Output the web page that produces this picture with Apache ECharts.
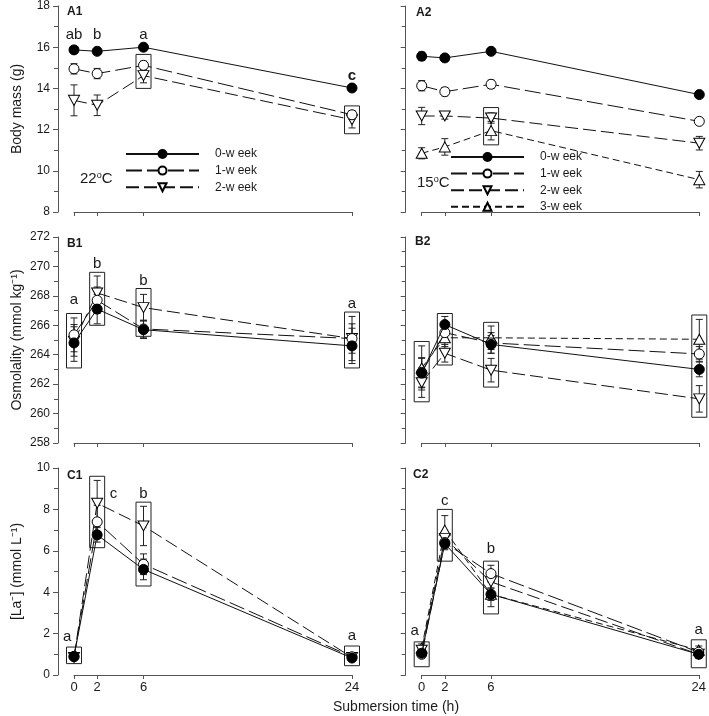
<!DOCTYPE html>
<html><head><meta charset="utf-8">
<script src="https://cdn.jsdelivr.net/npm/echarts@6/dist/echarts.min.js"></script>
<style>html,body{margin:0;padding:0;background:#fff}#c{width:709px;height:716px}</style>
</head><body><div id="c"></div>
<script>
// ---------- data ----------
const times = [0, 2, 6, 24];
const weekNames = ['0-w eek', '1-w eek', '2-w eek', '3-w eek'];

// A1: body mass, 22 °C
const a1_w0 = [15.87, 15.8, 16.0, 14.02];
const a1_w0_se = [0.15, 0.15, 0.12, 0.1];
const a1_w1 = [14.95, 14.72, 15.12, 12.72];
const a1_w1_se = [0.25, 0.25, 0.2, 0.2];
const a1_w2 = [13.42, 13.18, 14.62, 12.48];
const a1_w2_se = [0.75, 0.5, 0.35, 0.4];
const a1_boxT = [6, 24];
const a1_boxLo = [14.0, 11.8];
const a1_boxHi = [15.65, 13.15];
const a1_letT = [0, 2, 6, 24];
const a1_letY = [16.6, 16.6, 16.6, 14.6];
const a1_let = ['ab', 'b', 'a', 'c'];

// A2: body mass, 15 °C
const a2_w0 = [15.56, 15.48, 15.8, 13.7];
const a2_w0_se = [0.2, 0.15, 0.1, 0.12];
const a2_w1 = [14.13, 13.84, 14.2, 12.4];
const a2_w1_se = [0.25, 0.2, 0.2, 0.1];
const a2_w2 = [12.66, 12.66, 12.56, 11.34];
const a2_w2_se = [0.42, 0.15, 0.25, 0.33];
const a2_w3 = [10.85, 11.16, 11.95, 9.57];
const a2_w3_se = [0.27, 0.4, 0.45, 0.4];
const a2_boxT = [6];
const a2_boxLo = [11.26];
const a2_boxHi = [13.07];

// B1: osmolality, 22 °C
const b1_w0 = [264.8, 267.1, 265.7, 264.6];
const b1_w0_se = [1.25, 1.0, 0.6, 1.2];
const b1_w1 = [265.35, 267.7, 265.75, 265.1];
const b1_w1_se = [1.15, 0.9, 0.6, 1.5];
const b1_w2 = [264.9, 268.2, 267.2, 265.1];
const b1_w2_se = [1.0, 1.15, 0.9, 1.0];
const b1_boxT = [0, 2, 6, 24];
const b1_boxLo = [263.1, 266.0, 265.25, 263.1];
const b1_boxHi = [266.8, 269.6, 268.5, 266.9];
const b1_letT = [0, 2, 6, 24];
const b1_letY = [267.7, 270.2, 269.0, 267.45];
const b1_let = ['a', 'b', 'b', 'a'];

// B2: osmolality, 15 °C
const b2_w0 = [262.75, 266.05, 264.7, 263.0];
const b2_w0_se = [1.0, 0.55, 0.6, 0.5];
const b2_w1 = [262.8, 265.5, 264.8, 264.05];
const b2_w1_se = [1.0, 0.6, 0.7, 0.5];
const b2_w2 = [262.1, 264.1, 262.95, 261.0];
const b2_w2_se = [1.0, 0.6, 0.8, 0.9];
const b2_w3 = [263.1, 265.15, 265.15, 265.05];
const b2_w3_se = [1.5, 0.6, 0.8, 1.35];
const b2_boxT = [0, 2, 6, 24];
const b2_boxLo = [260.8, 263.3, 261.8, 259.75];
const b2_boxHi = [264.9, 266.8, 266.2, 266.7];

// C1: lactate, 22 °C
const c1_w0 = [0.9, 6.77, 5.1, 0.82];
const c1_w0_se = [0.1, 0.35, 0.5, 0.1];
const c1_w1 = [0.88, 7.4, 5.35, 0.88];
const c1_w1_se = [0.1, 0.8, 0.5, 0.1];
const c1_w2 = [0.85, 8.3, 7.2, 0.85];
const c1_w2_se = [0.1, 1.1, 0.95, 0.1];
const c1_boxT = [0, 2, 6, 24];
const c1_boxLo = [0.55, 6.15, 4.3, 0.45];
const c1_boxHi = [1.35, 9.6, 8.35, 1.4];
const c1_letT = [-0.6, 3.4, 6, 24];
const c1_letY = [1.85, 8.75, 8.75, 1.9];
const c1_let = ['a', 'c', 'b', 'a'];

// C2: lactate, 15 °C
const c2_w0 = [1.05, 6.35, 3.9, 1.0];
const c2_w0_se = [0.15, 0.3, 0.3, 0.1];
const c2_w1 = [1.0, 6.4, 4.9, 1.1];
const c2_w1_se = [0.15, 0.3, 0.4, 0.1];
const c2_w2 = [1.2, 6.6, 4.5, 1.0];
const c2_w2_se = [0.15, 0.3, 0.3, 0.2];
const c2_w3 = [1.3, 7.0, 3.9, 1.2];
const c2_w3_se = [0.2, 0.7, 0.6, 0.2];
const c2_boxT = [0, 2, 6, 24];
const c2_boxLo = [0.4, 5.5, 2.95, 0.35];
const c2_boxHi = [1.6, 8.0, 5.5, 1.7];
const c2_letT = [-0.6, 2, 6, 24];
const c2_letY = [2.15, 8.4, 6.1, 2.2];
const c2_let = ['a', 'c', 'b', 'a'];

// ---------- styles ----------
const FONT = 'Liberation Sans, Arial, sans-serif';
const INK = '#1a1a1a';
const AXIS = '#555';
const DOWN = 'path://M0,0L20,0L10,18Z';
const UP = 'path://M10,0L20,18L0,18Z';
const weekStyle = [
  { symbol: 'circle', size: 10, fill: '#000', dash: 'solid' },
  { symbol: 'circle', size: 10, fill: '#fff', dash: [16, 5] },
  { symbol: DOWN, size: [11, 10], fill: '#fff', dash: [13, 5] },
  { symbol: UP, size: [11, 10], fill: '#fff', dash: [7, 4] }
];

const panels = [
  { grid: { left: 74, top: 6, width: 278, height: 206 }, min: 8, max: 18, labels: true, xLabels: false,
    name: 'Body mass (g)', weeks: [[a1_w0, a1_w0_se], [a1_w1, a1_w1_se], [a1_w2, a1_w2_se]],
    box: [a1_boxT, a1_boxLo, a1_boxHi], let: [a1_letT, a1_letY, a1_let], boldLast: true },
  { grid: { left: 421.7, top: 6, width: 277.6, height: 206 }, min: 8, max: 18, labels: false, xLabels: false,
    name: '', weeks: [[a2_w0, a2_w0_se], [a2_w1, a2_w1_se], [a2_w2, a2_w2_se], [a2_w3, a2_w3_se]],
    box: [a2_boxT, a2_boxLo, a2_boxHi], let: null },
  { grid: { left: 74, top: 237, width: 278, height: 206 }, min: 258, max: 272, labels: true, xLabels: false,
    name: 'Osmolality (mmol kg\u207B\u00B9)', weeks: [[b1_w0, b1_w0_se], [b1_w1, b1_w1_se], [b1_w2, b1_w2_se]],
    box: [b1_boxT, b1_boxLo, b1_boxHi], let: [b1_letT, b1_letY, b1_let] },
  { grid: { left: 421.7, top: 237, width: 277.6, height: 206 }, min: 258, max: 272, labels: false, xLabels: false,
    name: '', weeks: [[b2_w0, b2_w0_se], [b2_w1, b2_w1_se], [b2_w2, b2_w2_se], [b2_w3, b2_w3_se]],
    box: [b2_boxT, b2_boxLo, b2_boxHi], let: null },
  { grid: { left: 74, top: 468, width: 278, height: 207 }, min: 0, max: 10, labels: true, xLabels: true,
    name: '[La\u207B] (mmol L\u207B\u00B9)', weeks: [[c1_w0, c1_w0_se], [c1_w1, c1_w1_se], [c1_w2, c1_w2_se]],
    box: [c1_boxT, c1_boxLo, c1_boxHi], let: [c1_letT, c1_letY, c1_let] },
  { grid: { left: 421.7, top: 468, width: 277.6, height: 207 }, min: 0, max: 10, labels: false, xLabels: true,
    name: '', weeks: [[c2_w0, c2_w0_se], [c2_w1, c2_w1_se], [c2_w2, c2_w2_se], [c2_w3, c2_w3_se]],
    box: [c2_boxT, c2_boxLo, c2_boxHi], let: [c2_letT, c2_letY, c2_let] }
];

const grids = [], xAxes = [], yAxes = [], series = [];

function errRender(params, api) {
  const x = api.value(0);
  const lo = api.coord([x, api.value(1)]);
  const hi = api.coord([x, api.value(2)]);
  const w = 3.5;
  const st = { stroke: '#222', lineWidth: 1 };
  return { type: 'group', children: [
    { type: 'line', shape: { x1: lo[0], y1: lo[1], x2: hi[0], y2: hi[1] }, style: st },
    { type: 'line', shape: { x1: lo[0] - w, y1: lo[1], x2: lo[0] + w, y2: lo[1] }, style: st },
    { type: 'line', shape: { x1: hi[0] - w, y1: hi[1], x2: hi[0] + w, y2: hi[1] }, style: st }
  ] };
}
function boxRender(params, api) {
  const x = api.value(0);
  const lo = api.coord([x, api.value(1)]);
  const hi = api.coord([x, api.value(2)]);
  return { type: 'rect', shape: { x: lo[0] - 7.5, y: hi[1], width: 15, height: lo[1] - hi[1] },
    style: { fill: 'none', stroke: '#222', lineWidth: 1 } };
}

panels.forEach((p, i) => {
  grids.push(p.grid);
  xAxes.push({
    gridIndex: i, type: 'value', min: 0, max: 24,
    axisLine: { show: true, onZero: false, lineStyle: { color: AXIS, width: 1 } },
    axisTick: { show: true, length: 4, customValues: times, lineStyle: { color: AXIS } },
    axisLabel: { show: p.xLabels, customValues: times, fontSize: 13, color: INK, fontFamily: FONT, margin: 6 },
    splitLine: { show: false }
  });
  yAxes.push({
    gridIndex: i, type: 'value', min: p.min, max: p.max, interval: 2, offset: 16,
    axisLine: { show: true, onZero: false, lineStyle: { color: AXIS, width: 1 } },
    axisTick: { show: true, length: 5, lineStyle: { color: AXIS } },
    minorTick: { show: true, splitNumber: 2, length: 4, lineStyle: { color: AXIS } },
    axisLabel: { show: p.labels, fontSize: 12, color: INK, fontFamily: FONT, margin: 8 },
    splitLine: { show: false },
    name: p.name, nameLocation: 'middle', nameGap: 34,
    nameTextStyle: { fontSize: 14, color: INK, fontFamily: FONT }
  });
  // error bars
  p.weeks.forEach((wk, k) => {
    series.push({
      type: 'custom', name: 'err', xAxisIndex: i, yAxisIndex: i, renderItem: errRender, silent: true, z: 2,
      encode: { x: 0, y: [1, 2] },
      data: times.map((t, j) => [t, wk[0][j] - wk[1][j], wk[0][j] + wk[1][j]])
    });
  });
  // boxes
  series.push({
    type: 'custom', name: 'box', xAxisIndex: i, yAxisIndex: i, renderItem: boxRender, silent: true, z: 2,
    encode: { x: 0, y: [1, 2] },
    data: p.box[0].map((t, j) => [t, p.box[1][j], p.box[2][j]])
  });
  // lines, drawn from last week to first so 0-week is on top
  for (let k = p.weeks.length - 1; k >= 0; k--) {
    const ws = weekStyle[k];
    series.push({
      type: 'line', name: weekNames[k], xAxisIndex: i, yAxisIndex: i, z: 3 + (p.weeks.length - k),
      data: times.map((t, j) => [t, p.weeks[k][0][j]]),
      symbol: ws.symbol, symbolSize: ws.size, showAllSymbol: true,
      itemStyle: { color: ws.fill, borderColor: '#000', borderWidth: 1, opacity: 1 },
      lineStyle: { color: '#111', width: 1, type: ws.dash },
      emphasis: { disabled: true }, animation: false
    });
  }
  // significance letters
  if (p.let) {
    const L = p.let;
    series.push({
      type: 'custom', name: 'letters', xAxisIndex: i, yAxisIndex: i, silent: true, z: 10,
      encode: { x: 0, y: 1 },
      data: L[0].map((t, j) => [t, L[1][j]]),
      renderItem: (params, api) => {
        const c = api.coord([api.value(0), api.value(1)]);
        const bold = p.boldLast && params.dataIndex === L[2].length - 1;
        return { type: 'text', x: c[0], y: c[1], style: { text: L[2][params.dataIndex],
          font: (bold ? 'bold ' : '') + '15px ' + FONT, fill: INK, align: 'center', verticalAlign: 'middle' } };
      }
    });
  }
});

const legendCommon = {
  orient: 'vertical', itemWidth: 73, itemHeight: 10, itemGap: 4.6, selectedMode: false, padding: 0,
  textStyle: { fontSize: 12, lineHeight: 12, color: INK, fontFamily: FONT, padding: [0, 0, 0, 11] }
};

const option = {
  animation: false,
  backgroundColor: '#fff',
  grid: grids, xAxis: xAxes, yAxis: yAxes, series: series,
  legend: [
    Object.assign({ left: 125, top: 148, data: weekNames.slice(0, 3) }, legendCommon),
    Object.assign({ left: 450, top: 151, data: weekNames.slice(0, 4) }, legendCommon)
  ],
  graphic: [
    { type: 'text', left: 67, top: 6, style: { text: 'A1', font: 'bold 12px ' + FONT, fill: INK } },
    { type: 'text', left: 416, top: 7, style: { text: 'A2', font: 'bold 12px ' + FONT, fill: INK } },
    { type: 'text', left: 67, top: 238, style: { text: 'B1', font: 'bold 12px ' + FONT, fill: INK } },
    { type: 'text', left: 415, top: 236, style: { text: 'B2', font: 'bold 12px ' + FONT, fill: INK } },
    { type: 'text', left: 67, top: 470, style: { text: 'C1', font: 'bold 12px ' + FONT, fill: INK } },
    { type: 'text', left: 413, top: 469, style: { text: 'C2', font: 'bold 12px ' + FONT, fill: INK } },
    { type: 'text', left: 80, top: 171, style: { text: '22{o|o}C', font: '15px ' + FONT, fill: INK,
      rich: { o: { fontSize: 9, verticalAlign: 'top', fontFamily: FONT, fill: INK } } } },
    { type: 'text', left: 417, top: 175, style: { text: '15{o|o}C', font: '15px ' + FONT, fill: INK,
      rich: { o: { fontSize: 9, verticalAlign: 'top', fontFamily: FONT, fill: INK } } } },
    { type: 'text', left: 333, top: 700, style: { text: 'Submersion time (h)', font: '14px ' + FONT, fill: INK } }
  ]
};

const chart = echarts.init(document.getElementById('c'), null, { renderer: 'canvas' });
chart.setOption(option);
</script>
</body></html>
